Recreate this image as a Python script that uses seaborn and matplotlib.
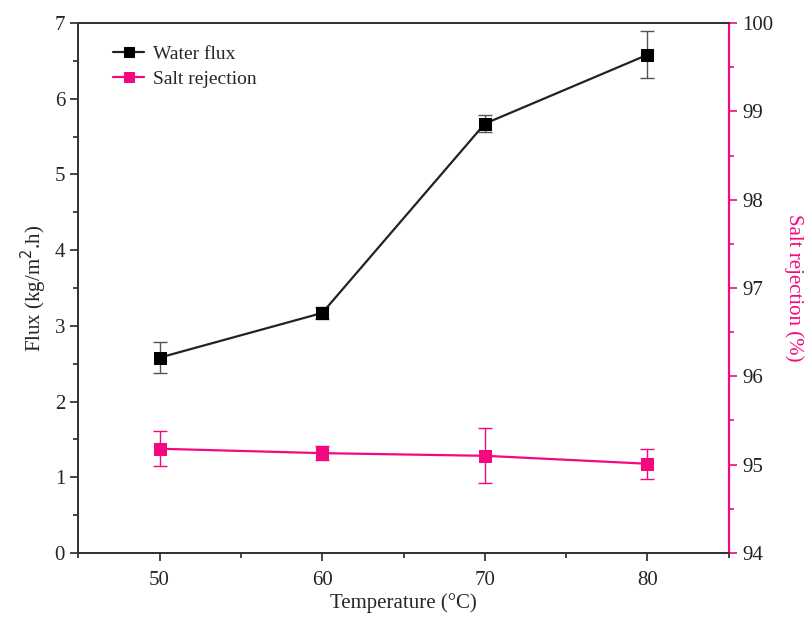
import pandas as pd
import matplotlib.pyplot as plt
import seaborn as sns
from matplotlib.ticker import MultipleLocator

# Data
temperature = [50, 60, 70, 80]
water_flux = [2.58, 3.17, 5.67, 6.58]
flux_err = [0.20, 0.08, 0.11, 0.31]
salt_rejection = [95.18, 95.13, 95.10, 95.01]
rejection_err = [0.20, 0.08, 0.31, 0.17]

df = pd.DataFrame({"Temperature": temperature, "Flux": water_flux,
                   "FluxErr": flux_err, "Rejection": salt_rejection,
                   "RejErr": rejection_err})

sns.set_style("ticks")
plt.rcParams['font.family'] = ['Liberation Serif', 'DejaVu Serif']
pink = "#f5077f"

fig = plt.figure(figsize=(8.07, 6.22), dpi=100)
ax = fig.add_axes([0.097, 0.111, 0.806, 0.852])
ax2 = ax.twinx()

# Water flux (left axis)
ax.errorbar(df["Temperature"], df["Flux"], yerr=df["FluxErr"], fmt="none",
            ecolor="#555555", elinewidth=1, capsize=5, capthick=1, zorder=2)
sns.lineplot(data=df, x="Temperature", y="Flux", ax=ax, color="#222222",
             marker="s", markersize=9, markeredgecolor="black",
             markerfacecolor="black", linewidth=1.6, label="Water flux",
             legend=False, zorder=3)

# Salt rejection (right axis)
ax2.errorbar(df["Temperature"], df["Rejection"], yerr=df["RejErr"], fmt="none",
             ecolor=pink, elinewidth=1, capsize=5, capthick=1, zorder=2)
sns.lineplot(data=df, x="Temperature", y="Rejection", ax=ax2, color=pink,
             marker="s", markersize=9, markeredgecolor=pink,
             markerfacecolor=pink, linewidth=1.6, label="Salt rejection",
             legend=False, zorder=3)

ax.set_xlim(45, 85)
ax.set_ylim(0, 7)
ax2.set_ylim(94, 100)
ax.set_xticks(temperature)
ax.xaxis.set_minor_locator(MultipleLocator(5))
ax.yaxis.set_major_locator(MultipleLocator(1))
ax.yaxis.set_minor_locator(MultipleLocator(0.5))
ax2.yaxis.set_major_locator(MultipleLocator(1))
ax2.yaxis.set_minor_locator(MultipleLocator(0.5))

ax.set_xlabel("Temperature (°C)", fontsize=15, labelpad=2)
ax.set_ylabel("Flux (kg/m$^2$.h)", fontsize=15)
ax2.set_ylabel("Salt rejection (%)", fontsize=15, color=pink, rotation=270,
               labelpad=22)

for a in (ax, ax2):
    a.tick_params(which="major", direction="out", length=6, width=1.2,
                  labelsize=15)
    a.tick_params(which="minor", direction="out", length=3.5, width=1.2)
    for s in a.spines.values():
        s.set_linewidth(1.3)
        s.set_color("#333333")
ax.tick_params(axis="x", which="major", pad=7)
ax2.spines["right"].set_color(pink)
ax2.spines["right"].set_linewidth(1.6)
ax2.tick_params(axis="y", which="both", color=pink, labelcolor="#222222")

h1, l1 = ax.get_legend_handles_labels()
h2, l2 = ax2.get_legend_handles_labels()
ax.legend(h1 + h2, l1 + l2, loc="upper left", bbox_to_anchor=(0.042, 0.973),
          frameon=False, fontsize=14, handlelength=1.6, handletextpad=0.45,
          borderaxespad=0, labelspacing=0.4, markerscale=0.75)

plt.savefig("out.png", dpi=100)
